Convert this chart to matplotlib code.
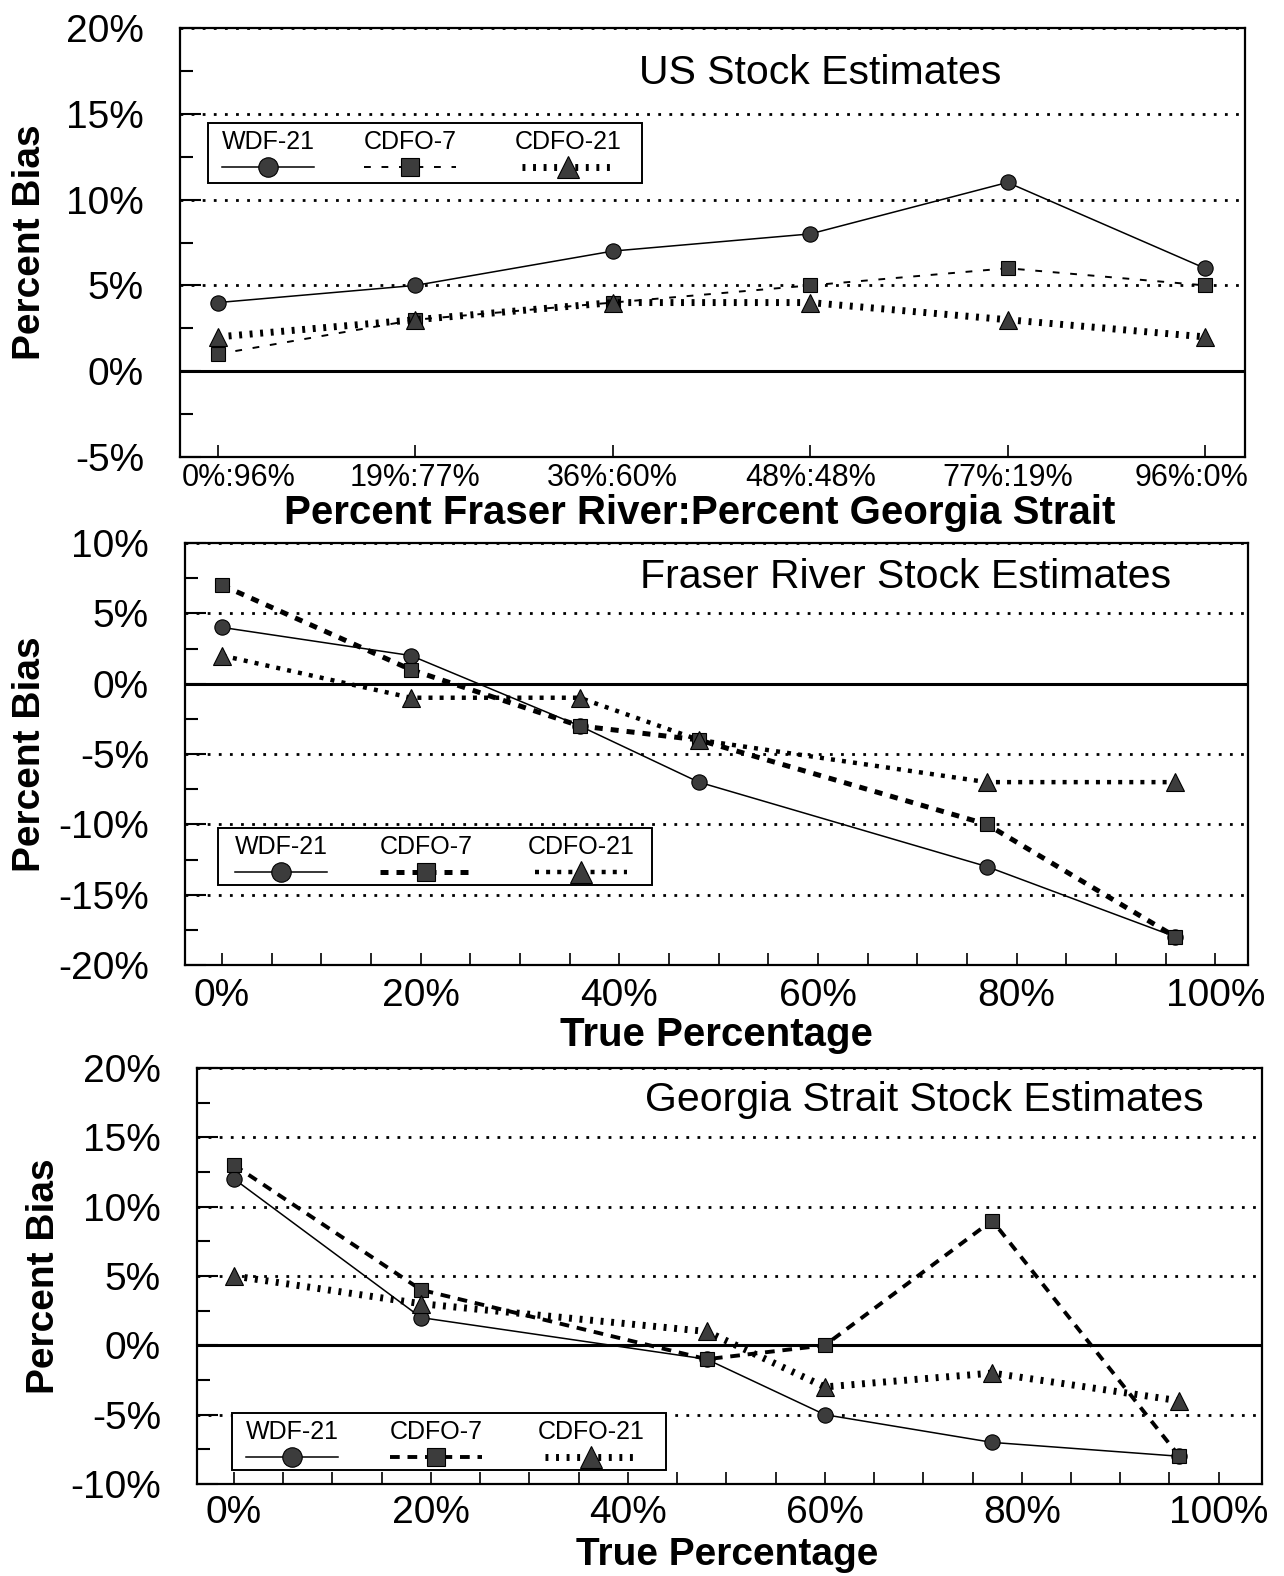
import matplotlib
matplotlib.use('Agg')
import matplotlib.pyplot as plt
from matplotlib.patches import Rectangle
from matplotlib.lines import Line2D
from matplotlib.ticker import MultipleLocator
from matplotlib.transforms import ScaledTranslation

plt.rcParams['font.family'] = ['Liberation Sans', 'DejaVu Sans']

FW, FH = 1284, 1576

series = ['WDF-21', 'CDFO-7', 'CDFO-21']

# US stock: mixtures (percent Fraser River : percent Georgia Strait)
mix_labels = ['0%:96%', '19%:77%', '36%:60%', '48%:48%', '77%:19%', '96%:0%']
us_wdf21 = [4, 5, 7, 8, 11, 6]
us_cdfo7 = [1, 3, 4, 5, 6, 5]
us_cdfo21 = [2, 3, 4, 4, 3, 2]

# Fraser River stock
fraser_true = [0, 19, 36, 48, 77, 96]
fr_wdf21 = [4, 2, -3, -7, -13, -18]
fr_cdfo7 = [7, 1, -3, -4, -10, -18]
fr_cdfo21 = [2, -1, -1, -4, -7, -7]

# Georgia Strait stock
georgia_true = [0, 19, 48, 60, 77, 96]
gs_wdf21 = [12, 2, -1, -5, -7, -8]
gs_cdfo7 = [13, 4, -1, 0, 9, -8]
gs_cdfo21 = [5, 3, 1, -3, -2, -4]

MK = '#3c3c3c'

# per-panel line looks: (dash lw, dash pattern, dot lw, dot pattern)
look_us = (1.4, (3.5, 5.5), 5.0, (0.42, 1.1))
look_fr = (3.6, (1.6, 1.6), 3.2, (0.9, 1.6))
look_gs = (2.8, (2.5, 2.0), 5.0, (0.42, 1.1))


def style(name, look):
    dash_lw, dash_pat, dot_lw, dot_pat = look
    base = dict(color='black', mfc=MK, mec='black', mew=0.8,
                dash_capstyle='butt')
    if name == 'WDF-21':
        base.update(lw=1.1, ls='-', marker='o', ms=11)
    elif name == 'CDFO-7':
        base.update(lw=dash_lw, ls=(0, dash_pat), marker='s', ms=10.5)
    else:
        base.update(lw=dot_lw, ls=(0, dot_pat), marker='^', ms=13)
    return base


def draw_key(fig, left, top, offsets, look, height=58, width=434):
    fx = lambda x: x / FW
    fy = lambda y: 1 - y / FH
    fig.add_artist(Rectangle((fx(left), fy(top + height)), width / FW,
                             height / FH, transform=fig.transFigure,
                             facecolor='white', edgecolor='black', lw=1.4,
                             zorder=5))
    for name, off in zip(series, offsets):
        cx = left + off
        fig.text(fx(cx), fy(top + 19), name, ha='center', va='center',
                 fontsize=18, zorder=6)
        st = style(name, look)
        line_st = {k: v for k, v in st.items()
                   if k not in ('marker', 'ms', 'mfc', 'mec', 'mew')}
        fig.add_artist(Line2D([fx(cx - 46), fx(cx + 46)],
                              [fy(top + 44)] * 2, transform=fig.transFigure,
                              zorder=6, **line_st))
        fig.add_artist(Line2D([fx(cx)], [fy(top + 44)], ls='none',
                              marker=st['marker'], ms=st['ms'] + 3,
                              mfc=MK, mec='black', mew=0.8,
                              transform=fig.transFigure, zorder=7))


def setup(ax, ylim, xtick_size, ylab_x):
    ax.set_ylim(ylim)
    yt = list(range(ylim[0], ylim[1] + 1, 5))
    ax.set_yticks(yt, labels=[f'{v}%' for v in yt])
    ax.yaxis.set_minor_locator(MultipleLocator(2.5))
    ax.grid(axis='y', which='major', ls=(0, (1, 3)), lw=2, color='black')
    ax.axhline(0, color='black', lw=2.2, zorder=1.8)
    ax.tick_params(axis='y', which='major', direction='in', length=15,
                   width=1.5, labelsize=28, pad=26)
    ax.tick_params(axis='y', which='minor', direction='in', length=9,
                   width=1.5)
    ax.tick_params(axis='x', which='both', direction='in', length=9,
                   width=1.2, labelsize=xtick_size)
    ax.tick_params(right=False, top=False, which='both')
    for s in ax.spines.values():
        s.set_linewidth(1.6)
    ax.set_ylabel('Percent Bias', fontsize=28, fontweight='bold')
    ax.yaxis.set_label_coords(ylab_x, 0.5)


def draw_lines(ax, x, ys, look):
    for name, y in zip(series, ys):
        ax.plot(x, y, zorder=3, **style(name, look))


fig = plt.figure(figsize=(FW / 100, FH / 100), dpi=100)

# Panel 1: US
ax1 = fig.add_axes([180 / FW, 1 - 457 / FH, 1065 / FW, 429 / FH])
setup(ax1, (-5, 20), 22, -0.124)
cats = list(range(len(mix_labels)))
draw_lines(ax1, cats, [us_wdf21, us_cdfo7, us_cdfo21], look_us)
ax1.set_xticks(cats, labels=mix_labels)
ax1.set_xlim(-0.193, 5.203)
ax1.tick_params(axis='x', pad=4)
tl = ax1.get_xticklabels()
tl[0].set_transform(tl[0].get_transform()
                    + ScaledTranslation(0.21, 0, fig.dpi_scale_trans))
tl[-1].set_transform(tl[-1].get_transform()
                     + ScaledTranslation(-0.13, 0, fig.dpi_scale_trans))
ax1.set_xlabel('Percent Fraser River:Percent Georgia Strait', fontsize=29,
               fontweight='bold')
ax1.xaxis.set_label_coords(0.488, -0.086)
ax1.text(0.601, 0.895, 'US Stock Estimates', transform=ax1.transAxes,
         ha='center', va='center', fontsize=29.5)
draw_key(fig, 208, 123, [60, 202, 360], look_us, height=60)

# Panel 2: Fraser River
ax2 = fig.add_axes([185 / FW, 1 - 965 / FH, 1063 / FW, 422 / FH])
setup(ax2, (-20, 10), 28, -0.129)
draw_lines(ax2, fraser_true, [fr_wdf21, fr_cdfo7, fr_cdfo21], look_fr)
ax2.set_xlim(-3.73, 103.3)
xt = list(range(0, 101, 20))
ax2.set_xticks(xt, labels=[f'{v}%' for v in xt])
ax2.xaxis.set_minor_locator(MultipleLocator(5))
ax2.tick_params(axis='x', pad=9)
ax2.set_xlabel('True Percentage', fontsize=29, fontweight='bold')
ax2.xaxis.set_label_coords(0.5, -0.122)
ax2.text(0.678, 0.919, 'Fraser River Stock Estimates',
         transform=ax2.transAxes, ha='center', va='center', fontsize=29.5)
draw_key(fig, 218, 828, [63, 208, 363], look_fr, height=57)

# Panel 3: Georgia Strait
ax3 = fig.add_axes([197 / FW, 1 - 1484 / FH, 1065 / FW, 416 / FH])
setup(ax3, (-10, 20), 28, -0.127)
draw_lines(ax3, georgia_true, [gs_wdf21, gs_cdfo7, gs_cdfo21], look_gs)
ax3.set_xlim(-3.76, 104.4)
ax3.set_xticks(xt, labels=[f'{v}%' for v in xt])
ax3.xaxis.set_minor_locator(MultipleLocator(5))
ax3.tick_params(axis='x', pad=8)
ax3.set_xlabel('True Percentage', fontsize=28, fontweight='bold')
ax3.xaxis.set_label_coords(0.498, -0.128)
ax3.text(0.683, 0.923, 'Georgia Strait Stock Estimates',
         transform=ax3.transAxes, ha='center', va='center', fontsize=29.5)
draw_key(fig, 232, 1413, [60, 204, 359], look_gs, height=57)

fig.savefig('out.png', dpi=100)
